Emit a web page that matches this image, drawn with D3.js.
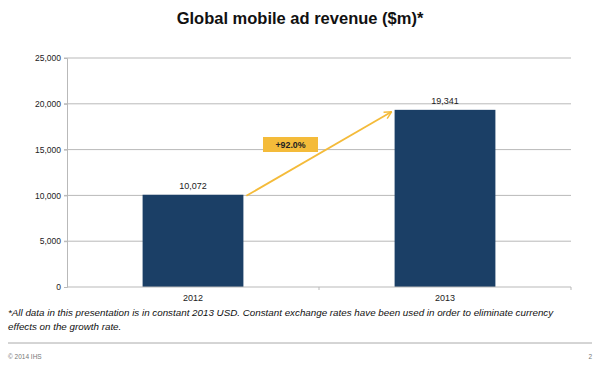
<!DOCTYPE html>
<html>
<head>
<meta charset="utf-8">
<script src="https://cdn.jsdelivr.net/npm/d3@7"></script>
<style>
  body { margin: 0; background: #fff; }
  svg { display: block; font-family: "Liberation Sans", Arial, sans-serif; }
</style>
</head>
<body>
<div id="chart"></div>
<script>
// Chart data
const years = ["2012", "2013"];
const revenue = [10072, 19341];
const yTicks = [0, 5000, 10000, 15000, 20000, 25000];
const growthLabel = "+92.0%";

const width = 600;
const height = 369;
const margin = { top: 58, right: 29, bottom: 82, left: 67 };

const COLORS = {
    bar: "#1b3f66",
    grid: "#b9b9b9",
    arrow: "#f4bb3a",
    text: "#222"
};

const svg = d3.select("#chart")
    .append("svg")
    .attr("width", width)
    .attr("height", height);

// Title
svg.append("text")
    .attr("x", 300)
    .attr("y", 24)
    .attr("text-anchor", "middle")
    .attr("font-size", 16.5)
    .attr("font-weight", "bold")
    .attr("fill", "#111")
    .text("Global mobile ad revenue ($m)*");

const x = d3.scaleBand()
    .domain(years)
    .range([margin.left, width - margin.right]);

const y = d3.scaleLinear()
    .domain([0, 25000])
    .range([height - margin.bottom, margin.top]);

// Gridlines
svg.append("g")
    .selectAll("line")
    .data(yTicks.slice(1))
    .enter()
    .append("line")
    .attr("x1", margin.left - 3)
    .attr("x2", width - margin.right)
    .attr("y1", d => y(d))
    .attr("y2", d => y(d))
    .attr("stroke", COLORS.grid)
    .attr("stroke-width", 1);

// Y axis
const yAxis = svg.append("g")
    .attr("transform", `translate(${margin.left},0)`)
    .call(d3.axisLeft(y).tickValues(yTicks).tickSize(3).tickPadding(3).tickFormat(d3.format(",")));
yAxis.select(".domain").attr("stroke", COLORS.grid);
yAxis.selectAll(".tick line").attr("stroke", COLORS.grid);
yAxis.selectAll("text").attr("font-size", 8.5).attr("fill", COLORS.text)
    .attr("font-family", "Liberation Sans, Arial, sans-serif");

// Bars
const barW = x.bandwidth() * 0.4;
svg.append("g")
    .selectAll("rect")
    .data(revenue)
    .enter()
    .append("rect")
    .attr("x", (d, i) => x(years[i]) + (x.bandwidth() - barW) / 2)
    .attr("y", d => y(d))
    .attr("width", barW)
    .attr("height", d => y(0) - y(d))
    .attr("fill", COLORS.bar);

// Value labels
svg.append("g")
    .selectAll("text")
    .data(revenue)
    .enter()
    .append("text")
    .attr("x", (d, i) => x(years[i]) + x.bandwidth() / 2)
    .attr("y", d => y(d) - 6)
    .attr("text-anchor", "middle")
    .attr("font-size", 9)
    .attr("fill", COLORS.text)
    .text(d => d3.format(",")(d));

// X axis
const xAxisY = y(0);
svg.append("line")
    .attr("x1", margin.left)
    .attr("x2", width - margin.right)
    .attr("y1", xAxisY)
    .attr("y2", xAxisY)
    .attr("stroke", COLORS.grid);
svg.append("g")
    .selectAll("line")
    .data([years[1], null])
    .enter()
    .append("line")
    .attr("x1", d => d ? x(d) : width - margin.right)
    .attr("x2", d => d ? x(d) : width - margin.right)
    .attr("y1", xAxisY)
    .attr("y2", xAxisY + 3)
    .attr("stroke", COLORS.grid);
svg.append("g")
    .selectAll("text")
    .data(years)
    .enter()
    .append("text")
    .attr("x", d => x(d) + x.bandwidth() / 2)
    .attr("y", xAxisY + 14)
    .attr("text-anchor", "middle")
    .attr("font-size", 9)
    .attr("fill", COLORS.text)
    .text(d => d);

// Growth arrow
const defs = svg.append("defs");
defs.append("marker")
    .attr("id", "arrowhead")
    .attr("viewBox", "0 0 10 10")
    .attr("refX", 9)
    .attr("refY", 5)
    .attr("markerWidth", 5)
    .attr("markerHeight", 5)
    .attr("orient", "auto")
    .append("path")
    .attr("d", "M1,1 L9,5 L1,9")
    .attr("fill", "none")
    .attr("stroke", COLORS.arrow)
    .attr("stroke-width", 1.6);

const x0 = x(years[0]) + (x.bandwidth() + barW) / 2 + 3;
const x1 = x(years[1]) + (x.bandwidth() - barW) / 2 - 3;
svg.append("line")
    .attr("x1", x0)
    .attr("y1", y(revenue[0]) + 1)
    .attr("x2", x1)
    .attr("y2", y(revenue[1]) + 2)
    .attr("stroke", COLORS.arrow)
    .attr("stroke-width", 1.8)
    .attr("marker-end", "url(#arrowhead)");

// Growth label box
const boxX = 263, boxY = 137, boxW = 55, boxH = 15;
svg.append("rect")
    .attr("x", boxX)
    .attr("y", boxY)
    .attr("width", boxW)
    .attr("height", boxH)
    .attr("fill", COLORS.arrow);
svg.append("text")
    .attr("x", boxX + boxW / 2)
    .attr("y", boxY + 10.8)
    .attr("text-anchor", "middle")
    .attr("font-size", 8.8)
    .attr("font-weight", "bold")
    .attr("fill", "#222")
    .text(growthLabel);

// Footnote
const footnote = [
    "*All data in this presentation is in constant 2013 USD. Constant exchange rates have been used in order to eliminate currency",
    "effects on the growth rate."
];
svg.append("g")
    .selectAll("text")
    .data(footnote)
    .enter()
    .append("text")
    .attr("x", 8)
    .attr("y", (d, i) => 316 + i * 14)
    .attr("font-size", 9.8)
    .attr("font-style", "italic")
    .attr("fill", "#111")
    .text(d => d);

svg.append("line")
    .attr("x1", 8)
    .attr("x2", 592)
    .attr("y1", 343)
    .attr("y2", 343)
    .attr("stroke", "#aaa");

svg.append("text")
    .attr("x", 8)
    .attr("y", 359)
    .attr("font-size", 6.5)
    .attr("fill", "#777")
    .text("© 2014 IHS");
svg.append("text")
    .attr("x", 592)
    .attr("y", 359)
    .attr("text-anchor", "end")
    .attr("font-size", 6.5)
    .attr("fill", "#777")
    .text("2");
</script>
</body>
</html>
